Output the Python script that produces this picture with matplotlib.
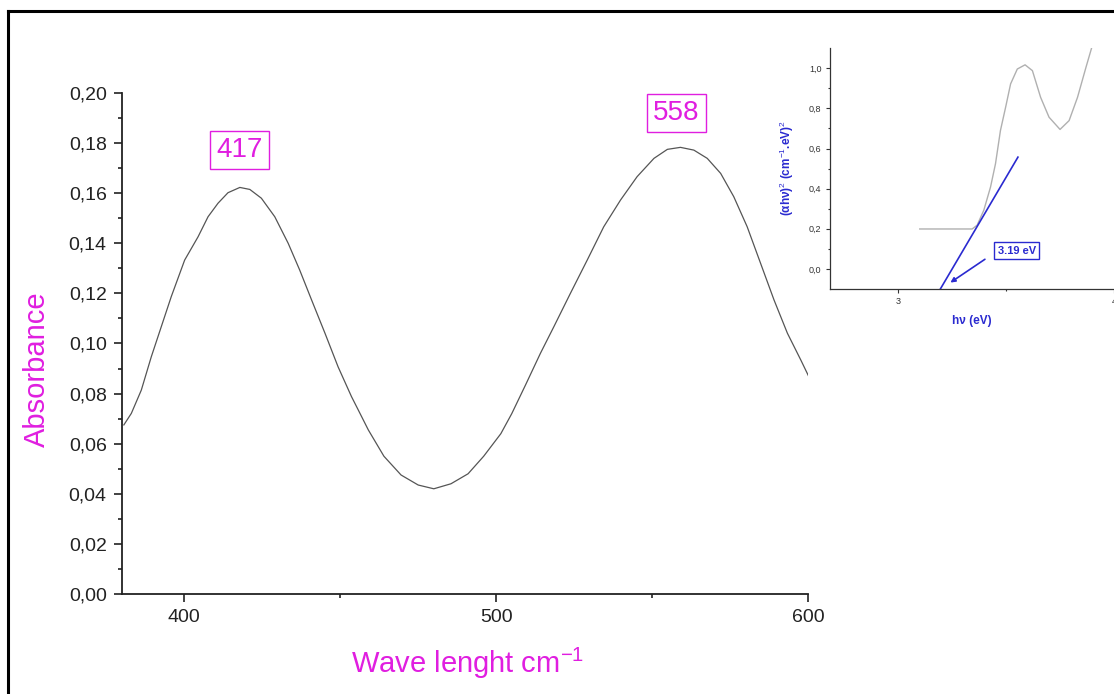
import matplotlib.pyplot as plt
from matplotlib.ticker import FixedLocator, FuncFormatter
from matplotlib.lines import Line2D

plt.rcParams['font.family'] = ['Liberation Sans', 'DejaVu Sans']
plt.rcParams['mathtext.fontset'] = 'custom'
plt.rcParams['mathtext.rm'] = 'Liberation Sans'
plt.rcParams['mathtext.it'] = 'Liberation Sans:italic'
plt.rcParams['mathtext.bf'] = 'Liberation Sans:bold'

# main spectrum
wavelength = [380.6, 383, 386.2, 389.4, 392.6, 395.8, 400.1, 404.4, 407.6,
              410.8, 414, 417.8, 421, 424.7, 429, 433.3, 437, 440.8, 445.1,
              449.3, 453.6, 455.8, 459, 464, 469.5, 475, 480, 485.5, 491, 496,
              501.5, 505, 509.4, 514.2, 518.5, 523.8, 529.2, 534.5, 539.9,
              545.2, 550.6, 554.9, 559.1, 563.4, 567.7, 572, 576.2, 580.5,
              584.8, 589.1, 593.4, 597.7, 600.3]
absorbance = [0.0675, 0.0721, 0.0814, 0.0947, 0.1067, 0.1187, 0.1333, 0.1426,
              0.1506, 0.156, 0.1602, 0.1623, 0.1615, 0.158, 0.1506, 0.140,
              0.1293, 0.1174, 0.1041, 0.0907, 0.0788, 0.0734, 0.0655, 0.055,
              0.0475, 0.0435, 0.042, 0.044, 0.048, 0.055, 0.064, 0.072,
              0.0834, 0.0961, 0.1067, 0.120, 0.1333, 0.1466, 0.1573, 0.1666,
              0.1739, 0.1775, 0.1783, 0.1772, 0.1739, 0.1679, 0.1586, 0.1466,
              0.132, 0.1174, 0.1041, 0.0934, 0.0867]
peak_labels = ['417', '558']
peak_pos = [(417.7, 0.1772), (557.8, 0.1919)]

# inset: Tauc plot
hv = [3.10, 3.20, 3.30, 3.343, 3.366, 3.397, 3.428, 3.451, 3.474, 3.498,
      3.521, 3.552, 3.588, 3.622, 3.660, 3.699, 3.750, 3.792, 3.831, 3.870, 3.896]
tauc = [0.199, 0.199, 0.199, 0.199, 0.218, 0.293, 0.408, 0.524, 0.690, 0.806,
        0.922, 0.996, 1.017, 0.988, 0.855, 0.756, 0.695, 0.739, 0.855, 1.004, 1.100]
fit_x = [3.195, 3.555]
fit_y = [-0.101, 0.557]
gap_label = '3.19 eV'

magenta = '#e01ee0'
blue = '#2a2ad0'

fig = plt.figure(figsize=(11.14, 6.94), dpi=100)

# main axes
ax = fig.add_axes([0.1095, 0.1441, 0.6158, 0.7219])
ax.plot(wavelength, absorbance, color='#555555', lw=0.9)
ax.set_xlim(380, 600)
ax.set_ylim(0, 0.20)
for s in ['top', 'right']:
    ax.spines[s].set_visible(False)
for s in ['left', 'bottom']:
    ax.spines[s].set_linewidth(1.3)
    ax.spines[s].set_color('#222222')
ax.xaxis.set_major_locator(FixedLocator([400, 500, 600]))
ax.xaxis.set_minor_locator(FixedLocator([450, 550]))
ax.yaxis.set_major_locator(FixedLocator([i * 0.02 for i in range(11)]))
ax.yaxis.set_minor_locator(FixedLocator([0.01 + i * 0.02 for i in range(10)]))
ax.yaxis.set_major_formatter(FuncFormatter(lambda v, p: f"{v:.2f}".replace('.', ',')))
ax.tick_params(which='major', direction='out', length=6, width=1.2,
               labelsize=14, colors='#222222', pad=5)
ax.tick_params(which='minor', direction='out', length=3, width=1.2, colors='#222222')

for lab, (x, y) in zip(peak_labels, peak_pos):
    ax.text(x, y, lab, color=magenta, fontsize=20, ha='center', va='center',
            bbox=dict(boxstyle='square,pad=0.22', fc='white', ec=magenta, lw=1.0))

fig.text(37 / 1114, 1 - 369 / 694, 'Absorbance', color=magenta, fontsize=21,
         rotation=90, ha='center', va='center')
fig.text(468 / 1114, 1 - 663 / 694, 'Wave lenght cm$^{-1}$', color=magenta,
         fontsize=21, ha='center', va='center')

# inset
ins = fig.add_axes([0.745, 0.5836, 0.255, 0.347])
ins.plot(hv, tauc, color='#b0b0b0', lw=1.0)
ins.plot(fit_x, fit_y, color=blue, lw=1.2)
ins.set_xlim(2.684, 4.0)
ins.set_ylim(-0.1, 1.1)
for s in ['top', 'right']:
    ins.spines[s].set_visible(False)
for s in ['left', 'bottom']:
    ins.spines[s].set_linewidth(0.9)
    ins.spines[s].set_color('#333333')
ins.xaxis.set_major_locator(FixedLocator([3, 4]))
ins.xaxis.set_minor_locator(FixedLocator([3.5]))
ins.yaxis.set_major_locator(FixedLocator([0, 0.2, 0.4, 0.6, 0.8, 1.0]))
ins.yaxis.set_minor_locator(FixedLocator([0.1, 0.3, 0.5, 0.7, 0.9]))
ins.yaxis.set_major_formatter(FuncFormatter(lambda v, p: f"{v:.1f}".replace('.', ',')))
ins.tick_params(which='major', direction='out', length=3, width=0.8,
                labelsize=6.5, colors='#333333', pad=3)
ins.tick_params(which='minor', direction='out', length=1.5, width=0.8, colors='#333333')
ins.patch.set_alpha(0)

ins.annotate('', xy=(3.242, -0.068), xytext=(3.402, 0.048),
             arrowprops=dict(arrowstyle='-|>', color=blue, lw=1.2,
                             mutation_scale=7, shrinkA=0, shrinkB=0))
ins.text(3.549, 0.091, gap_label, color=blue, fontsize=8, fontweight='bold',
         ha='center', va='center',
         bbox=dict(boxstyle='square,pad=0.3', fc='white', ec=blue, lw=1.0))
ins.set_xlabel('hν (eV)', color=blue, fontsize=8.5, fontweight='bold', labelpad=6)
ins.text(-0.15, 0.5, '(αhν)$^2$ (cm$^{-1}$.eV)$^2$',
         transform=ins.transAxes, rotation=90, color=blue, fontsize=8.5,
         fontweight='bold', ha='center', va='center')

# frame around the picture
fig.add_artist(Line2D([8 / 1114, 8 / 1114], [0, 1 - 11 / 694], color='black', lw=2.2))
fig.add_artist(Line2D([8 / 1114, 1], [1 - 11 / 694, 1 - 11 / 694], color='black', lw=2.2))

fig.savefig('out.png', dpi=100)
